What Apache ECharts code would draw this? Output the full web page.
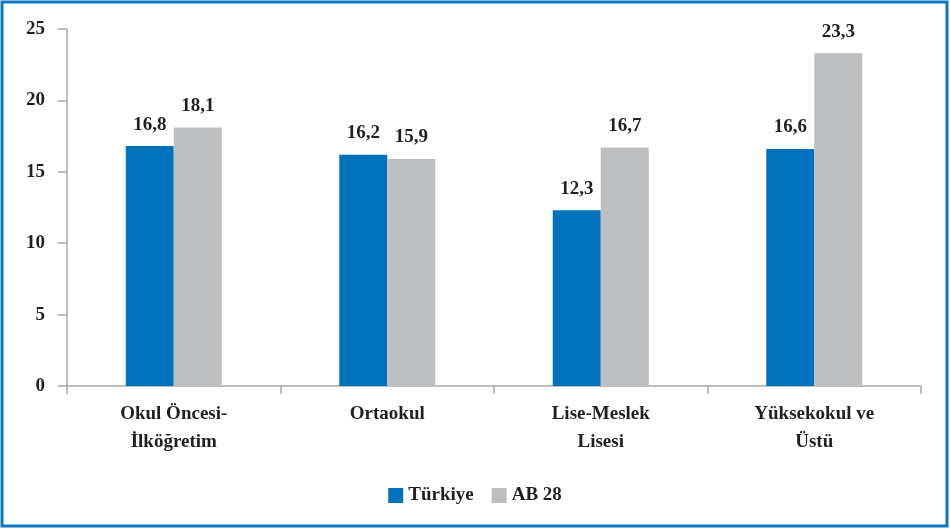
<!DOCTYPE html>
<html><head><meta charset="utf-8">
<script src="https://cdn.jsdelivr.net/npm/echarts@6/dist/echarts.min.js"></script>
<style>html,body{margin:0;padding:0;background:#fff}#c{width:950px;height:529px}</style>
</head><body><div id="c"></div>
<script>
const categories = ['Okul Öncesi-\nİlköğretim', 'Ortaokul', 'Lise-Meslek\nLisesi', 'Yüksekokul ve\nÜstü'];
const turkiye = [16.8, 16.2, 12.3, 16.6];
const ab28 = [18.1, 15.9, 16.7, 23.3];
const seriesNames = ['Türkiye', 'AB 28'];

const font = '"Liberation Serif", "DejaVu Serif", serif';
const txt = '#231f20';
const fs = 19;
const fmt = p => String(p.value).replace('.', ',');
const chart = echarts.init(document.getElementById('c'), null, {renderer: 'canvas'});
chart.setOption({
  animation: false,
  backgroundColor: '#fff',
  graphic: [{type: 'rect', shape: {x: 2, y: 2, width: 945, height: 524}, style: {fill: 'none', stroke: '#0a78c2', lineWidth: 3}, z: 100}],
  grid: {left: 67, right: 29, top: 29, bottom: 143},
  legend: {
    data: seriesNames, bottom: 19, left: 'center', itemWidth: 15, itemHeight: 15, itemGap: 18,
    icon: 'rect',
    textStyle: {fontFamily: font, fontWeight: 'bold', fontSize: fs, color: txt}
  },
  xAxis: {
    type: 'category', data: categories,
    axisLine: {lineStyle: {color: '#a7a9ac', width: 1.5}},
    axisTick: {show: true, length: 8, lineStyle: {color: '#a7a9ac', width: 1.5}},
    axisLabel: {interval: 0, margin: 14, lineHeight: 28, fontFamily: font, fontWeight: 'bold', fontSize: fs, color: txt}
  },
  yAxis: {
    type: 'value', min: 0, max: 25, interval: 5,
    splitLine: {show: false},
    axisLine: {show: true, lineStyle: {color: '#a7a9ac', width: 1.5}},
    axisTick: {show: true, length: 9, lineStyle: {color: '#a7a9ac', width: 1.5}},
    axisLabel: {margin: 22, fontFamily: font, fontWeight: 'bold', fontSize: fs, color: txt}
  },
  series: [
    {name: seriesNames[0], type: 'bar', data: turkiye, barWidth: 48, barGap: '0%', itemStyle: {color: '#0072bc'},
     label: {show: true, position: 'top', distance: 12, formatter: fmt, fontFamily: font, fontWeight: 'bold', fontSize: fs, color: txt}},
    {name: seriesNames[1], type: 'bar', data: ab28, barWidth: 48, barGap: '0%', itemStyle: {color: '#bcbec0'},
     label: {show: true, position: 'top', distance: 12, formatter: fmt, fontFamily: font, fontWeight: 'bold', fontSize: fs, color: txt}}
  ]
});
</script></body></html>
